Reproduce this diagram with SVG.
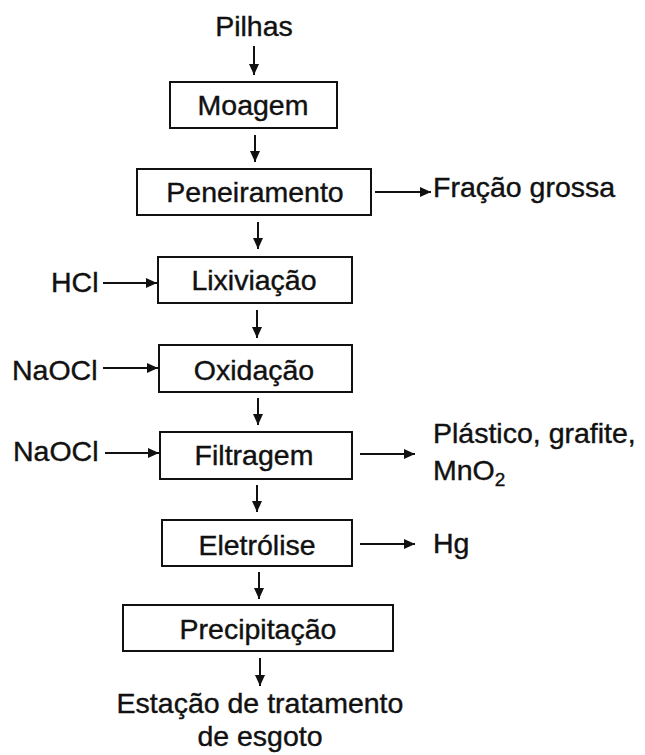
<svg xmlns="http://www.w3.org/2000/svg" width="645" height="755" viewBox="0 0 645 755">
  <style>
    text { font-family: "Liberation Sans", Arial, sans-serif; font-size: 28.5px; fill: #111; stroke: #111; stroke-width: 0.4; }
    .c { text-anchor: middle; }
    .box { fill: #fff; stroke: #111; stroke-width: 2; }
    .ln { stroke: #111; stroke-width: 2; fill: none; marker-end: url(#ah); }
  </style>
  <defs>
    <marker id="ah" viewBox="0 0 11 10" refX="11" refY="5" markerWidth="11" markerHeight="10" markerUnits="userSpaceOnUse" orient="auto">
      <path d="M0,0 L11,5 L0,10 Z" fill="#111"/>
    </marker>
  </defs>
  <rect width="645" height="755" fill="#fff"/>

  <g id="connectors">
    <line class="ln" x1="254" y1="46" x2="254" y2="75"/>
    <line class="ln" x1="255" y1="135" x2="255" y2="162"/>
    <line class="ln" x1="375" y1="192" x2="431" y2="192"/>
    <line class="ln" x1="258" y1="222" x2="258" y2="249"/>
    <line class="ln" x1="103" y1="283" x2="157" y2="283"/>
    <line class="ln" x1="257" y1="310" x2="257" y2="338"/>
    <line class="ln" x1="103" y1="368" x2="158" y2="368"/>
    <line class="ln" x1="258" y1="398" x2="258" y2="425"/>
    <line class="ln" x1="105" y1="453" x2="159" y2="453"/>
    <line class="ln" x1="360" y1="454" x2="415" y2="454"/>
    <line class="ln" x1="257" y1="485" x2="257" y2="512"/>
    <line class="ln" x1="360" y1="544" x2="415" y2="544"/>
    <line class="ln" x1="259" y1="572" x2="259" y2="599"/>
    <line class="ln" x1="260" y1="658" x2="260" y2="686"/>
  </g>

  <g id="pilhas"><text class="c" x="254" y="36">Pilhas</text></g>
  <g id="moagem">
    <rect class="box" x="170" y="82" width="167" height="46"/>
    <text class="c" x="253" y="115">Moagem</text>
  </g>
  <g id="peneiramento">
    <rect class="box" x="137" y="169" width="234" height="46"/>
    <text class="c" x="255" y="202">Peneiramento</text>
  </g>
  <g id="fracao-grossa"><text x="433" y="197">Fração grossa</text></g>
  <g id="hcl"><text x="51" y="292">HCl</text></g>
  <g id="lixiviacao">
    <rect class="box" x="158" y="257" width="194" height="46"/>
    <text class="c" x="254" y="290">Lixiviação</text>
  </g>
  <g id="naocl-1"><text x="12" y="380">NaOCl</text></g>
  <g id="oxidacao">
    <rect class="box" x="159" y="345" width="193" height="47"/>
    <text class="c" x="254" y="380">Oxidação</text>
  </g>
  <g id="naocl-2"><text x="13" y="461">NaOCl</text></g>
  <g id="filtragem">
    <rect class="box" x="160" y="432" width="192" height="47"/>
    <text class="c" x="254" y="465">Filtragem</text>
  </g>
  <g id="residuos">
    <text x="433" y="443">Plástico, grafite,</text>
    <text x="433" y="480">MnO<tspan font-size="19" dy="6">2</tspan></text>
  </g>
  <g id="eletrolise">
    <rect class="box" x="162" y="520" width="190" height="46"/>
    <text class="c" x="257" y="555">Eletrólise</text>
  </g>
  <g id="hg"><text x="433" y="553">Hg</text></g>
  <g id="precipitacao">
    <rect class="box" x="123" y="605" width="270" height="46"/>
    <text class="c" x="258" y="639">Precipitação</text>
  </g>
  <g id="estacao">
    <text class="c" x="260" y="713">Estação de tratamento</text>
    <text class="c" x="260" y="746">de esgoto</text>
  </g>
</svg>
